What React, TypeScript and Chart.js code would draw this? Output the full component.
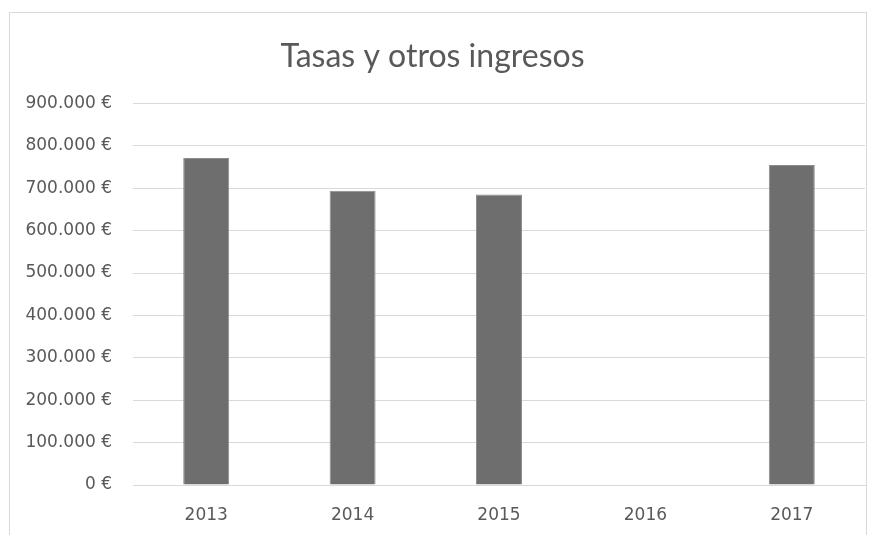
import React, { useEffect, useRef } from "react";
import { Chart, registerables } from "chart.js";

Chart.register(...registerables);

const categories = ["2013", "2014", "2015", "2016", "2017"];
const values: (number | null)[] = [771000, 694000, 685000, null, 755000];
const yTicks = [0, 100000, 200000, 300000, 400000, 500000, 600000, 700000, 800000, 900000];
const titleText = "Tasas y otros ingresos";

const TICK_FONT = "'DejaVu Sans', sans-serif";
const TITLE_FONT = "Lato, 'Open Sans', sans-serif";
const TEXT = "#595959";

function fmt(v: number): string {
  const s = Math.round(v).toString().replace(/\B(?=(\d{3})+(?!\d))/g, ".");
  return s + " €";
}

export default function App() {
  const ref = useRef<HTMLCanvasElement>(null);
  useEffect(() => {
    document.body.style.margin = "0";
    const ctx = ref.current!;
    const chart = new Chart(ctx, {
      type: "bar",
      data: {
        labels: categories,
        datasets: [
          {
            data: values,
            backgroundColor: "#6e6e6e",
            borderColor: "#8c8c8c",
            borderWidth: 1,
            categoryPercentage: 1,
            barPercentage: 0.314,
          },
        ],
      },
      options: {
        responsive: false,
        maintainAspectRatio: false,
        animation: false,
        layout: { padding: { top: 0, left: 0, right: 12, bottom: 8 } },
        plugins: {
          legend: { display: false },
          tooltip: { enabled: false },
          title: {
            display: true,
            text: titleText,
            color: TEXT,
            font: { family: TITLE_FONT, size: 32, weight: "normal" },
            padding: { top: 37, bottom: 28 },
          },
        },
        scales: {
          x: {
            afterFit: (s: any) => {
              s.height = 42;
            },
            grid: { display: false, drawTicks: false },
            border: { display: true, color: "#d9d9d9", width: 1 },
            ticks: { color: TEXT, font: { family: TICK_FONT, size: 17 }, padding: 20 },
          },
          y: {
            min: 0,
            max: 900000,
            afterFit: (s: any) => {
              s.width = 133;
            },
            afterBuildTicks: (s: any) => {
              s.ticks = yTicks.map((v) => ({ value: v }));
            },
            grid: { color: "#d9d9d9", lineWidth: 1, drawTicks: false },
            border: { display: false },
            ticks: {
              color: TEXT,
              font: { family: TICK_FONT, size: 17 },
              padding: 21,
              callback: (v: any) => fmt(Number(v)),
            },
          },
        },
      },
    });
    return () => chart.destroy();
  }, []);
  return (
    <div style={{ position: "relative", width: 877, height: 535, overflow: "hidden", background: "#fff" }}>
      <div
        style={{
          position: "absolute",
          left: 9,
          top: 12,
          width: 858,
          height: 540,
          border: "1px solid #d9d9d9",
          boxSizing: "border-box",
        }}
      />
      <canvas ref={ref} width={877} height={535} style={{ position: "absolute", left: 0, top: 0, width: 877, height: 535 }} />
    </div>
  );
}
